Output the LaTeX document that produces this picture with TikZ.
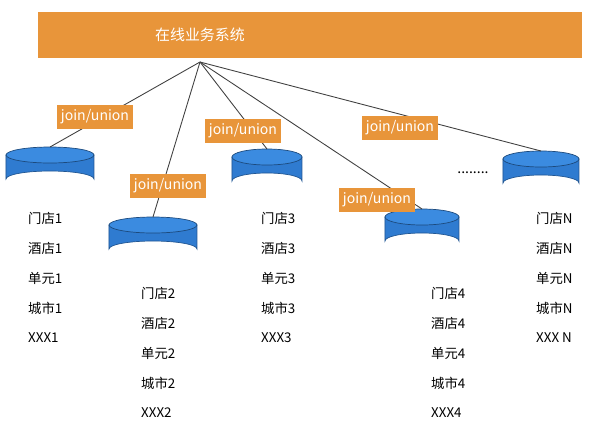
\documentclass[tikz,border=0pt]{standalone}
\usepackage{fontspec}
\setmainfont{Noto Sans CJK SC}
\usetikzlibrary{positioning}
\definecolor{sysorange}{HTML}{E8953A}
\definecolor{dbblue}{HTML}{2F7BD0}
\definecolor{dbtop}{HTML}{3B8BE0}
\tikzset{
  tag/.style={fill=sysorange,text=white,font=\fontsize{8}{9}\selectfont,inner sep=2.5pt,minimum height=13pt},
  item/.style={font=\fontsize{7.6}{9}\selectfont,anchor=west},
  link/.style={draw=black!75,line width=0.5pt}
}
\begin{document}
\begin{tikzpicture}[x=0.02cm,y=-0.02cm]
\useasboundingbox (0,0) rectangle (600,427);
\node[fill=sysorange,text=white,minimum width=544*0.02cm,minimum height=46*0.02cm,font=\fontsize{8.5}{9}\selectfont] (sys) at (310,35) {};
\node[text=white,font=\fontsize{8.5}{9}\selectfont] (systext) at (200,35) {在线业务系统};
\coordinate (hub) at (200,62);
% databases
\foreach \n/\x/\y/\w in {1/50/155/88, 2/153/225/88, 3/267/157/70, 4/422/217/74, N/541/159/76}{
  \fill[dbblue,draw=dbblue!70!black] (\x-\w/2,\y) -- (\x-\w/2,\y+24) arc[start angle=180,end angle=360,x radius=\w/2,y radius=8] -- (\x+\w/2,\y) -- cycle;
  \fill[dbtop,draw=dbblue!60!black] (\x,\y) ellipse[x radius=\w/2,y radius=8];
  \coordinate (db\n) at (\x,\y-8);
}
\draw[link] (hub) -- (db1);
\draw[link] (hub) -- (db2);
\draw[link] (hub) -- (db3);
\draw[link] (hub) -- (db4);
\draw[link] (hub) -- (dbN);
\node[tag] (j1) at (95,117) {join/union};
\node[tag] (j2) at (168,186) {join/union};
\node[tag] (j3) at (243,131) {join/union};
\node[tag] (j4) at (377,200) {join/union};
\node[tag] (j5) at (400,128) {join/union};
\node[font=\fontsize{8}{9}\selectfont] (dots) at (473,173) {........};
% lists
\foreach \n/\x/\y in {1/22/218, 2/135/293, 3/255/218, 4/425/293}{
  \node[item] (a\n) at (\x,\y) {门店\n};
  \node[item] (b\n) at (\x,\y+30) {酒店\n};
  \node[item] (c\n) at (\x,\y+60) {单元\n};
  \node[item] (d\n) at (\x,\y+90) {城市\n};
  \node[item] (e\n) at (\x,\y+120) {XXX\n};
}
\node[item] (aN) at (530,218) {门店N};
\node[item] (bN) at (530,248) {酒店N};
\node[item] (cN) at (530,278) {单元N};
\node[item] (dN) at (530,308) {城市N};
\node[item] (eN) at (530,338) {XXX N};
\end{tikzpicture}
\end{document}
